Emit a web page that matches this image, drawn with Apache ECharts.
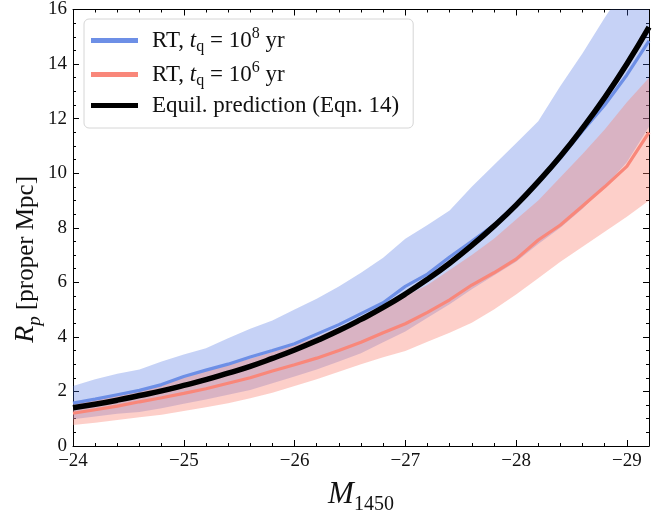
<!DOCTYPE html>
<html>
<head>
<meta charset="utf-8">
<script src="https://cdn.jsdelivr.net/npm/echarts@6/dist/echarts.min.js"></script>
<style>
  html, body { margin: 0; padding: 0; background: #fff; }
  #chart { width: 668px; height: 520px; }
</style>
</head>
<body>
<div id="chart"></div>
<script>
// M_1450 grid (0.2 mag steps)
const mags = [-24, -24.2, -24.4, -24.6, -24.8, -25, -25.2, -25.4, -25.6, -25.8, -26, -26.2, -26.4, -26.6, -26.8,
  -27, -27.2, -27.4, -27.6, -27.8, -28, -28.2, -28.4, -28.6, -28.8, -29, -29.2];

// equilibrium prediction (Eqn. 14)
const equil = [1.40, 1.53, 1.68, 1.85, 2.02, 2.22, 2.43, 2.67, 2.92, 3.21, 3.52, 3.86, 4.23, 4.64, 5.08,
  5.57, 6.11, 6.70, 7.35, 8.06, 8.83, 9.69, 10.62, 11.65, 12.77, 14.0, 15.35];

// RT, t_q = 1e8 yr : median and band
const blueMid = [1.57, 1.72, 1.88, 2.04, 2.25, 2.55, 2.78, 3.0, 3.26, 3.5, 3.75, 4.1, 4.45, 4.85, 5.25,
  5.85, 6.3, 6.93, 7.5, 8.1, 8.85, 9.65, 10.55, 11.55, 12.5, 13.6, 14.85];
const blueLo = [0.98, 1.08, 1.18, 1.25, 1.38, 1.55, 1.7, 1.88, 2.05, 2.3, 2.55, 2.8, 3.1, 3.4, 3.8,
  4.2, 4.7, 5.2, 5.75, 6.25, 6.75, 7.4, 8.0, 8.7, 9.5, 10.4, 11.7];
const blueHi = [2.2, 2.45, 2.65, 2.8, 3.1, 3.35, 3.58, 3.95, 4.3, 4.6, 5.0, 5.4, 5.85, 6.35, 6.9,
  7.6, 8.1, 8.63, 9.5, 10.3, 11.1, 11.9, 13.2, 14.4, 15.7, 16.9, 18.1];

// RT, t_q = 1e6 yr : median and band
const redMid = [1.2, 1.33, 1.46, 1.62, 1.77, 1.93, 2.1, 2.3, 2.5, 2.75, 2.98, 3.22, 3.5, 3.8, 4.15,
  4.48, 4.9, 5.36, 5.9, 6.35, 6.85, 7.55, 8.1, 8.8, 9.5, 10.25, 11.5];
const redLo = [0.77, 0.85, 0.95, 1.05, 1.15, 1.28, 1.42, 1.57, 1.75, 1.95, 2.2, 2.45, 2.72, 3.0, 3.25,
  3.48, 3.82, 4.15, 4.52, 5.0, 5.55, 6.15, 6.75, 7.3, 7.85, 8.4, 9.0];
const redHi = [1.6, 1.75, 1.9, 2.07, 2.28, 2.52, 2.75, 2.98, 3.2, 3.45, 3.7, 4.0, 4.35, 4.7, 5.05,
  5.5, 5.9, 6.45, 7.0, 7.6, 8.3, 9.0, 9.85, 10.7, 11.6, 12.6, 13.5];

const xTicks = [24, 25, 26, 27, 28, 29];
const yTicks = [0, 2, 4, 6, 8, 10, 12, 14, 16];

const FONT = 'Liberation Serif';
const BLUE = '#6d8fe6';
const RED = '#f9877a';
const INK = '#111';

// axis runs in -M so that ticks start at a whole magnitude
function pts(vals) {
  return vals.map((v, i) => [-mags[i], v]);
}

// filled band between lo and hi, drawn once as a polygon through the axes
function bandSeries(name, lo, hi, fill, z) {
  return {
    name: name,
    type: 'custom',
    silent: true,
    z: z,
    data: mags.map((m, i) => [-m, lo[i], hi[i]]),
    encode: { x: 0, y: [1, 2] },
    renderItem: function (params, api) {
      if (params.dataIndex !== 0) return;
      const poly = [];
      for (let i = 0; i < mags.length; i++) poly.push(api.coord([-mags[i], hi[i]]));
      for (let i = mags.length - 1; i >= 0; i--) poly.push(api.coord([-mags[i], lo[i]]));
      const cs = params.coordSys;
      return {
        type: 'polygon',
        shape: { points: poly },
        style: { fill: fill },
        clipPath: { type: 'rect', shape: { x: cs.x, y: cs.y, width: cs.width, height: cs.height } }
      };
    }
  };
}

const chart = echarts.init(document.getElementById('chart'), null, { renderer: 'canvas' });

const axisBase = {
  type: 'value',
  axisLine: { show: true, onZero: false, lineStyle: { color: '#000', width: 1 } },
  axisTick: { show: true, inside: true, length: 6, lineStyle: { color: '#000' } },
  splitLine: { show: false },
  minorSplitLine: { show: false }
};

const option = {
  animation: false,
  backgroundColor: '#fff',
  grid: { left: 73, right: 19, top: 7, bottom: 55 },
  legend: {
    orient: 'vertical',
    left: 84,
    top: 19,
    padding: [7, 14, 11, 7],
    itemWidth: 47,
    itemHeight: 5,
    itemGap: 5,
    borderColor: '#d6d6d6',
    borderWidth: 1,
    borderRadius: 5,
    backgroundColor: 'rgba(255,255,255,0.8)',
    data: [
      { name: 'rt8', icon: 'rect', itemStyle: { color: BLUE } },
      { name: 'rt6', icon: 'rect', itemStyle: { color: RED } },
      { name: 'eq', icon: 'rect', itemStyle: { color: '#000' } }
    ],
    formatter: function (name) {
      if (name === 'rt8') return 'RT, {it|t}{sub|q} = 10{sup|8} yr';
      if (name === 'rt6') return 'RT, {it|t}{sub|q} = 10{sup|6} yr';
      return 'Equil. prediction (Eqn. 14)';
    },
    textStyle: {
      fontFamily: FONT, fontSize: 23, color: INK, lineHeight: 23,
      padding: [0, 0, 0, 9],
      rich: {
        it: { fontFamily: FONT, fontSize: 23, fontStyle: 'italic', color: INK },
        sub: { fontFamily: FONT, fontSize: 16, color: INK, verticalAlign: 'bottom', lineHeight: 16, padding: [0, 0, -3, 0] },
        sup: { fontFamily: FONT, fontSize: 16, color: INK, verticalAlign: 'top', lineHeight: 16, padding: [-3, 0, 0, 0] }
      }
    }
  },
  graphic: [
    {
      type: 'text',
      left: 12,
      top: 176,
      style: {
        text: '{i|R}{s|p} [proper Mpc]',
        fontFamily: FONT, fontSize: 25, fill: INK,
        rich: {
          i: { fontFamily: FONT, fontSize: 28, fontStyle: 'italic', fill: INK },
          s: { fontFamily: FONT, fontSize: 19, fontStyle: 'italic', fill: INK, verticalAlign: 'bottom', lineHeight: 19, padding: [0, 0, -4, 0] }
        }
      },
      rotation: Math.PI / 2,
      originX: 0, originY: 0
    }
  ],
  xAxis: [
    Object.assign({}, axisBase, {
      min: 24, max: 29.2, interval: 1,
      minorTick: { show: true, splitNumber: 5, length: 3, lineStyle: { color: '#000' } },
      position: 'bottom',
      name: '{i|M}{s|1450}',
      nameLocation: 'middle',
      nameGap: 33,
      nameTextStyle: {
        rich: {
          i: { fontFamily: FONT, fontSize: 31, fontStyle: 'italic', color: INK },
          s: { fontFamily: FONT, fontSize: 20, color: INK, verticalAlign: 'bottom', lineHeight: 20, padding: [0, 0, -5, 0] }
        }
      },
      axisLabel: {
        fontFamily: FONT, fontSize: 19, color: INK, margin: 6,
        formatter: function (v) { return xTicks.indexOf(v) >= 0 ? '\u2212' + v : ''; }
      }
    }),
    Object.assign({}, axisBase, {
      min: 24, max: 29.2, interval: 1,
      minorTick: { show: true, splitNumber: 5, length: 3, lineStyle: { color: '#000' } },
      position: 'top',
      axisLabel: { show: false }
    })
  ],
  yAxis: [
    Object.assign({}, axisBase, {
      min: 0, max: 16, interval: 2,
      minorTick: { show: true, splitNumber: 4, length: 3, lineStyle: { color: '#000' } },
      position: 'left',
      axisLabel: {
        fontFamily: FONT, fontSize: 19, color: INK, margin: 6,
        formatter: function (v) { return yTicks.indexOf(v) >= 0 ? String(v) : ''; }
      }
    }),
    Object.assign({}, axisBase, {
      min: 0, max: 16, interval: 2,
      minorTick: { show: true, splitNumber: 4, length: 3, lineStyle: { color: '#000' } },
      position: 'right',
      axisLabel: { show: false }
    })
  ],
  series: [
    bandSeries('bBand', blueLo, blueHi, 'rgba(65,105,225,0.30)', 1),
    bandSeries('rBand', redLo, redHi, 'rgba(250,128,114,0.38)', 2),
    {
      name: 'rt8', type: 'line', data: pts(blueMid), symbol: 'none', color: BLUE,
      lineStyle: { color: BLUE, width: 3.2 }, z: 3
    },
    {
      name: 'rt6', type: 'line', data: pts(redMid), symbol: 'none', color: RED,
      lineStyle: { color: RED, width: 3.2 }, z: 3
    },
    {
      name: 'eq', type: 'line', data: pts(equil), symbol: 'none', smooth: true, color: '#000',
      lineStyle: { color: '#000', width: 5.5 }, z: 4
    }
  ]
};

chart.setOption(option);
</script>
</body>
</html>
